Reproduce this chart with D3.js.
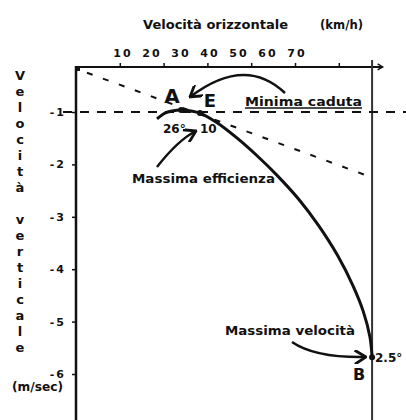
<!DOCTYPE html>
<html>
<head>
<meta charset="utf-8">
<script src="https://cdn.jsdelivr.net/npm/d3@7"></script>
<style>
  body { margin: 0; background: #fff; }
  svg text { font-family: "DejaVu Sans", sans-serif; fill: #111; }
</style>
</head>
<body>
<svg class="chart" width="406" height="420"></svg>
<script>
// polar curve: horizontal speed (km/h) vs vertical speed (m/s)
var polarSpeed = [18.5, 20.3, 21.9, 24.0, 26.3, 28.3, 32.3, 36.8, 41.4, 45.8, 50.9, 55.4, 59.8, 63.2, 65.6, 67.1, 67.6];
var polarSink = [-1.13, -1.02, -0.98, -0.96, -0.98, -1.02, -1.21, -1.50, -1.84, -2.20, -2.67, -3.17, -3.75, -4.31, -4.81, -5.29, -5.68];

var pointNames = ["A", "E", "B"];
var pointSpeed = [24.0, 28.3, 67.6];
var pointSink = [-0.96, -1.02, -5.68];

// tangent from the corner through E, and the minimum sink line
var tangentSpeed = [2.5, 67.6];
var tangentSink = [-0.25, -2.25];
var minSink = -1;
var maxSpeed = 67.6;

var xTicks = [10, 20, 30, 40, 50, 60];
var xTickLabels = ["10", "20", "30", "40", "50", "60", "70"];
var yTicks = [-1, -2, -3, -4, -5, -6];
var yTitle = "Velocità verticale";

var x = d3.scaleLinear()
.domain([0, 70])
.range([76, 382.6]);

var y = d3.scaleLinear()
.domain([-1, -6])
.range([112, 374]);

// the printed labels don't sit on the ticks in the original figure
var xLabel = d3.scaleLinear()
.domain([10, 70])
.range([123, 297]);

var chart = d3.select(".chart");

// titles
chart.append("text")
.attr("x", 143)
.attr("y", 29)
.attr("textLength", 145)
.attr("lengthAdjust", "spacingAndGlyphs")
.style("font-size", "13px")
.style("font-weight", "bold")
.text("Velocità orizzontale");

chart.append("text")
.attr("x", 320)
.attr("y", 29)
.attr("textLength", 43)
.attr("lengthAdjust", "spacingAndGlyphs")
.style("font-size", "13px")
.style("font-weight", "bold")
.text("(km/h)");

chart.append("g")
.selectAll("text")
.data(yTitle.split(""))
.enter()
.append("text")
.attr("x", 20)
.attr("y", function(d, i) {return 80 + i * 16})
.attr("text-anchor", "middle")
.style("font-size", "13px")
.style("font-weight", "bold")
.text(function(d) {return d});

chart.append("text")
.attr("x", 12)
.attr("y", 391)
.attr("textLength", 51)
.attr("lengthAdjust", "spacingAndGlyphs")
.style("font-size", "12px")
.style("font-weight", "bold")
.text("(m/sec)");

// top axis
var axisY = y(-0.14);
var xAxis = chart.append("g")
.attr("transform", "translate(0," + axisY + ")")
.call(d3.axisTop(x).tickValues(xTicks).tickSize(4).tickFormat(""));
xAxis.select(".domain").remove();
xAxis.selectAll("line").attr("stroke", "#111").attr("stroke-width", 1.5);

chart.append("line")
.attr("x1", x(0) - 1)
.attr("x2", x(70))
.attr("y1", axisY)
.attr("y2", axisY)
.attr("stroke", "#111")
.attr("stroke-width", 2);

chart.append("path")
.attr("d", "M" + (x(70) - 5) + "," + (axisY - 3) + "L" + x(70) + "," + axisY + "L" + (x(70) - 5) + "," + (axisY + 3))
.attr("fill", "none")
.attr("stroke", "#111")
.attr("stroke-width", 1.5);

// small corner mark
chart.append("rect")
.attr("x", x(0))
.attr("y", axisY)
.attr("width", 4)
.attr("height", 4)
.attr("fill", "#111");

chart.append("g")
.selectAll("text")
.data(xTickLabels)
.enter()
.append("text")
.attr("x", function(d) {return xLabel(+d)})
.attr("y", 57)
.attr("text-anchor", "middle")
.style("font-size", "11px")
.style("font-weight", "bold")
.style("letter-spacing", "2px")
.text(function(d) {return d});

// left axis
var yAxis = chart.append("g")
.attr("transform", "translate(" + x(0) + ",0)")
.call(d3.axisLeft(y).tickValues(yTicks).tickSize(4).tickPadding(6).tickFormat(function(d) {return "-" + Math.abs(d)}));
yAxis.select(".domain").remove();
yAxis.selectAll("line").attr("stroke", "#111").attr("stroke-width", 1.5);
yAxis.selectAll("text")
.style("font-size", "11px")
.style("font-weight", "bold")
.style("letter-spacing", "2px")
.style("font-family", "DejaVu Sans, sans-serif");

chart.append("line")
.attr("x1", x(0))
.attr("x2", x(0))
.attr("y1", axisY - 1)
.attr("y2", 420)
.attr("stroke", "#111")
.attr("stroke-width", 2.5);

// max speed vertical
chart.append("line")
.attr("x1", x(maxSpeed))
.attr("x2", x(maxSpeed))
.attr("y1", axisY - 7)
.attr("y2", 420)
.attr("stroke", "#333")
.attr("stroke-width", 2);

// minimum sink dashed line
chart.append("line")
.attr("x1", x(0) - 13)
.attr("x2", 406)
.attr("y1", y(minSink))
.attr("y2", y(minSink))
.attr("stroke", "#111")
.attr("stroke-width", 2)
.attr("stroke-dasharray", "9,8");

// tangent dashed line
chart.append("line")
.attr("x1", x(tangentSpeed[0]))
.attr("x2", x(tangentSpeed[1]))
.attr("y1", y(tangentSink[0]))
.attr("y2", y(tangentSink[1]))
.attr("stroke", "#111")
.attr("stroke-width", 2)
.attr("stroke-dasharray", "6,11");

// polar curve
var line = d3.line()
.x(function(d) {return x(d[0])})
.y(function(d) {return y(d[1])})
.curve(d3.curveCatmullRom);

chart.append("path")
.datum(polarSpeed.map(function(s, i) {return [s, polarSink[i]]}))
.attr("d", line)
.attr("fill", "none")
.attr("stroke", "#111")
.attr("stroke-width", 3);

chart.selectAll("circle.pt")
.data(pointNames)
.enter()
.append("circle")
.attr("class", "pt")
.attr("cx", function(d, i) {return x(pointSpeed[i])})
.attr("cy", function(d, i) {return y(pointSink[i])})
.attr("r", 3)
.attr("fill", "#111");

// point letters
var letterPos = {A: [172, 103, 20], E: [210, 107, 18], B: [359, 380, 16]};
chart.selectAll("text.pname")
.data(pointNames)
.enter()
.append("text")
.attr("class", "pname")
.attr("x", function(d) {return letterPos[d][0]})
.attr("y", function(d) {return letterPos[d][1]})
.attr("text-anchor", "middle")
.style("font-size", function(d) {return letterPos[d][2] + "px"})
.style("font-weight", "bold")
.text(function(d) {return d});

// angle labels
[["26°", 163, 133], ["10", 200, 133], ["2.5°", 375, 362]].forEach(function(a) {
    chart.append("text")
    .attr("x", a[1])
    .attr("y", a[2])
    .style("font-size", "12px")
    .style("font-weight", "bold")
    .text(a[0]);
});

// notes
[["Minima caduta", 245, 106, 117], ["Massima efficienza", 132, 183, 143], ["Massima velocità", 225, 335, 130]].forEach(function(a) {
    chart.append("text")
    .attr("x", a[1])
    .attr("y", a[2])
    .attr("textLength", a[3])
    .attr("lengthAdjust", "spacingAndGlyphs")
    .style("font-size", "13px")
    .style("font-weight", "bold")
    .text(a[0]);
});

chart.append("line")
.attr("x1", 245)
.attr("x2", 362)
.attr("y1", 108)
.attr("y2", 108)
.attr("stroke", "#111")
.attr("stroke-width", 1.5);

// arrows
chart.append("defs")
.append("marker")
.attr("id", "head")
.attr("viewBox", "0 0 10 10")
.attr("refX", 9)
.attr("refY", 5)
.attr("markerWidth", 14)
.attr("markerHeight", 14)
.attr("markerUnits", "userSpaceOnUse")
.attr("orient", "auto")
.append("path")
.attr("d", "M1,0L9,5L1,10")
.attr("fill", "none")
.attr("stroke", "#111")
.attr("stroke-width", 2);

[["M285,93Q245,55 190,97"], ["M157,167Q178,140 196,131"], ["M292,342Q315,358 366,357"]].forEach(function(a) {
    chart.append("path")
    .attr("d", a[0])
    .attr("fill", "none")
    .attr("stroke", "#111")
    .attr("stroke-width", 2.5)
    .attr("marker-end", "url(#head)");
});
</script>
</body>
</html>
